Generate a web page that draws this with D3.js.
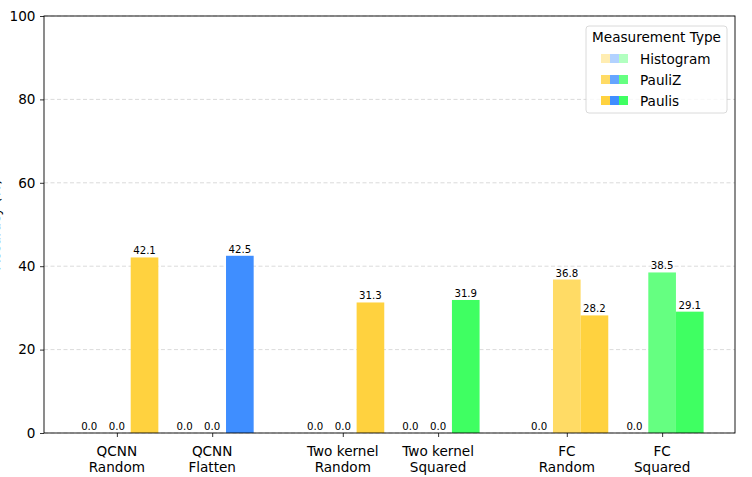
<!DOCTYPE html>
<html><head><meta charset="utf-8">
<script src="https://cdn.jsdelivr.net/npm/d3@7"></script>
<style>body{margin:0;background:#fff;}svg{display:block;font-family:"DejaVu Sans",sans-serif;}svg text{font-family:"DejaVu Sans",sans-serif;}</style>
</head><body>
<svg id="c" width="752" height="477"></svg>
<script>
const categories = ["QCNN\nRandom","QCNN\nFlatten","Two kernel\nRandom","Two kernel\nSquared","FC\nRandom","FC\nSquared"];
const groupPositions = [0, 1, 2.37, 3.37, 4.72, 5.72];
const groupColors = ["#FFD23F","#3F8EFF","#FFD23F","#3FFF62","#FFD23F","#3FFF62"];
const measurementTypes = ["Histogram","PauliZ","Paulis"];
const typeAlpha = [0.4, 0.8, 1.0];
const histogramValues = [0.0, 0.0, 0.0, 0.0, 0.0, 0.0];
const pauliZValues = [0.0, 0.0, 0.0, 0.0, 36.8, 38.5];
const paulisValues = [42.1, 42.5, 31.3, 31.9, 28.2, 29.1];
const yTicks = [0, 20, 40, 60, 80, 100];
const legendColors = ["#FFD23F","#3F8EFF","#3FFF62"];
const yLabel = "Accuracy (%)";

const series = [histogramValues, pauliZValues, paulisValues];
const barW = 0.29;
const FS = 13.6, VFS = 10.2;

const svg = d3.select("#c");
const L = 44, R = 735, T = 16, B = 433;

const leftEdge = groupPositions[0] - 1.5*barW;
const rightEdge = groupPositions[groupPositions.length-1] + 1.5*barW;
const span = rightEdge - leftEdge;
const x = d3.scaleLinear().domain([leftEdge - 0.05*span, rightEdge + 0.05*span]).range([L, R]);
const y = d3.scaleLinear().domain([0, 100]).range([B, T]);

function mix(hex, a){
  const c = d3.rgb(hex);
  return d3.rgb(255 - a*(255-c.r), 255 - a*(255-c.g), 255 - a*(255-c.b)).formatHex();
}

// grid
svg.append("g").selectAll("line").data(yTicks).join("line")
  .attr("x1", L).attr("x2", R).attr("y1", d=>y(d)).attr("y2", d=>y(d))
  .attr("stroke", "#b0b0b0").attr("stroke-opacity", 0.6).attr("stroke-width", 0.8)
  .attr("stroke-dasharray", "4,2.5");

// bars
const bars = [];
series.forEach((vals, s) => {
  vals.forEach((v, g) => {
    bars.push({s, g, v, cx: groupPositions[g] + (s-1)*barW});
  });
});
svg.append("g").selectAll("rect").data(bars).join("rect")
  .attr("x", d => x(d.cx - barW/2))
  .attr("width", d => x(d.cx + barW/2) - x(d.cx - barW/2))
  .attr("y", d => y(d.v))
  .attr("height", d => y(0) - y(d.v))
  .attr("fill", d => mix(groupColors[d.g], typeAlpha[d.s]));

svg.append("g").selectAll("text").data(bars).join("text")
  .attr("x", d => x(d.cx))
  .attr("y", d => y(d.v) - 3)
  .attr("text-anchor", "middle")
  .attr("font-size", VFS + "px")
  .attr("fill", "#000")
  .text(d => d.v.toFixed(1));

// axes
const yAxis = d3.axisLeft(y).tickValues(yTicks).tickSize(4).tickPadding(4.5).tickFormat(d3.format("d"));
const gy = svg.append("g").attr("transform", `translate(${L},0)`).call(yAxis);
gy.select(".domain").remove();
gy.attr("font-family", null).attr("font-size", null);
gy.selectAll("text").attr("font-size", FS + "px").attr("fill", "#000");
gy.selectAll("line").attr("stroke", "#000").attr("stroke-width", 0.8);

const xAxis = d3.axisBottom(x).tickValues(groupPositions).tickSize(4).tickFormat("");
const gx = svg.append("g").attr("transform", `translate(0,${B})`).call(xAxis);
gx.select(".domain").remove();
gx.selectAll("line").attr("stroke", "#000").attr("stroke-width", 0.8);
const xl = svg.append("g").selectAll("text").data(categories).join("text")
  .attr("text-anchor", "middle")
  .attr("font-size", FS + "px").attr("fill", "#000");
xl.each(function(d, i){
  const lines = d.split("\n");
  const t = d3.select(this);
  lines.forEach((ln, k) => {
    t.append("tspan").attr("x", x(groupPositions[i])).attr("y", B + 23 + k*15.5).text(ln);
  });
});

// frame
svg.append("rect").attr("x", L).attr("y", T).attr("width", R-L).attr("height", B-T)
  .attr("fill", "none").attr("stroke", "#000").attr("stroke-width", 0.9);

// y label (mostly clipped, as in the reference)
svg.append("text").attr("transform", `translate(-0.5,${(T+B)/2}) rotate(-90)`)
  .attr("text-anchor", "middle").attr("font-size", FS + "px").attr("fill", "#000").text(yLabel);

// legend
const lg = svg.append("g");
lg.append("rect").attr("x", 586).attr("y", 26).attr("width", 141).attr("height", 87)
  .attr("rx", 3).attr("fill", "#fff").attr("fill-opacity", 0.8).attr("stroke", "#d0d0d0").attr("stroke-width", 0.8);
lg.append("text").attr("x", 656.5).attr("y", 42).attr("text-anchor", "middle")
  .attr("font-size", FS + "px").attr("fill", "#000").text("Measurement Type");
measurementTypes.forEach((m, i) => {
  const yy = 54 + i*21;
  legendColors.forEach((c, k) => {
    lg.append("rect").attr("x", 601 + k*9).attr("y", yy).attr("width", 9).attr("height", 9)
      .attr("fill", mix(c, typeAlpha[i]));
  });
  lg.append("text").attr("x", 640).attr("y", yy + 9.5).attr("font-size", FS + "px").attr("fill", "#000").text(m);
});
</script>
</body></html>
